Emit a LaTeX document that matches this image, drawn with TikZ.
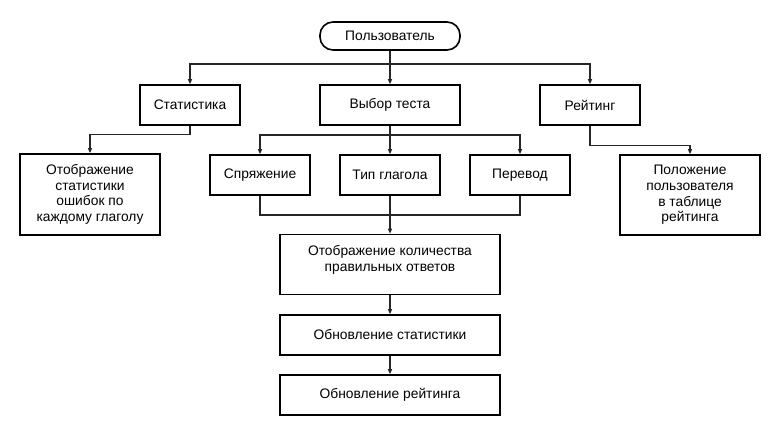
\documentclass[tikz,border=0pt]{standalone}
\usepackage{fontspec}
\setmainfont{Liberation Sans}
\usetikzlibrary{arrows.meta}

\tikzset{
  blok/.style={draw=black, line width=1.6pt, align=center, inner sep=2pt,
    font=\fontsize{13.8}{15.6}\selectfont},
  link/.style={draw=black!85, line width=1.2pt},
  arr/.style={link, -{Triangle[length=5pt, width=4pt]}}
}

\begin{document}
\begin{tikzpicture}[x=1pt, y=-1pt]
\useasboundingbox (0,0) rectangle (780,435);
% top
\node[blok, rounded corners=13pt, minimum width=140pt, minimum height=28pt] (user) at (390,36) {Пользователь};
\node[blok, minimum width=100pt, minimum height=40pt] (stat) at (190,105) {Статистика};
\node[blok, minimum width=140pt, minimum height=40pt] (test) at (390,105) {Выбор теста};
\node[blok, minimum width=100pt, minimum height=40pt] (rate) at (590,105) {Рейтинг};
% second row
\node[blok, minimum width=140pt, minimum height=81pt] (statinfo) at (90,194.5) {Отображение\\статистики\\ошибок по\\каждому глаголу};
\node[blok, minimum width=100pt, minimum height=40pt] (conj) at (260,175) {Спряжение};
\node[blok, minimum width=100pt, minimum height=40pt] (type) at (390,175) {Тип глагола};
\node[blok, minimum width=100pt, minimum height=40pt] (trans) at (520,175) {Перевод};
\node[blok, minimum width=140pt, minimum height=80pt] (rateinfo) at (690,195) {Положение\\пользователя\\в таблице\\рейтинга};
% results
\node[blok, minimum width=220pt, minimum height=60pt] (count) at (390,264.5) {Отображение количества\\правильных ответов\\[-4pt]};
\node[blok, minimum width=220pt, minimum height=40pt] (upstat) at (390,335) {Обновление статистики};
\node[blok, minimum width=220pt, minimum height=40pt] (uprate) at (390,395) {Обновление рейтинга};

\coordinate (split1) at (390,64);
\coordinate (split2) at (390,135);
\coordinate (merge) at (390,215);

\draw[link] (user) -- (split1);
\draw[arr] (split1) -| (stat);
\draw[arr] (split1) -- (test);
\draw[arr] (split1) -| (rate);

\draw[arr] (stat.south) -- ++(0,9) -| (statinfo);
\draw[arr] (rate.south) -- ++(0,20) -| (rateinfo);

\draw[link] (test) -- (split2);
\draw[arr] (split2) -| (conj);
\draw[arr] (split2) -- (type);
\draw[arr] (split2) -| (trans);

\draw[link] (conj.south) |- (merge) -| (trans.south);
\draw[arr] (type) -- (count);
\draw[arr] (count) -- (upstat);
\draw[arr] (upstat) -- (uprate);
\end{tikzpicture}
\end{document}
